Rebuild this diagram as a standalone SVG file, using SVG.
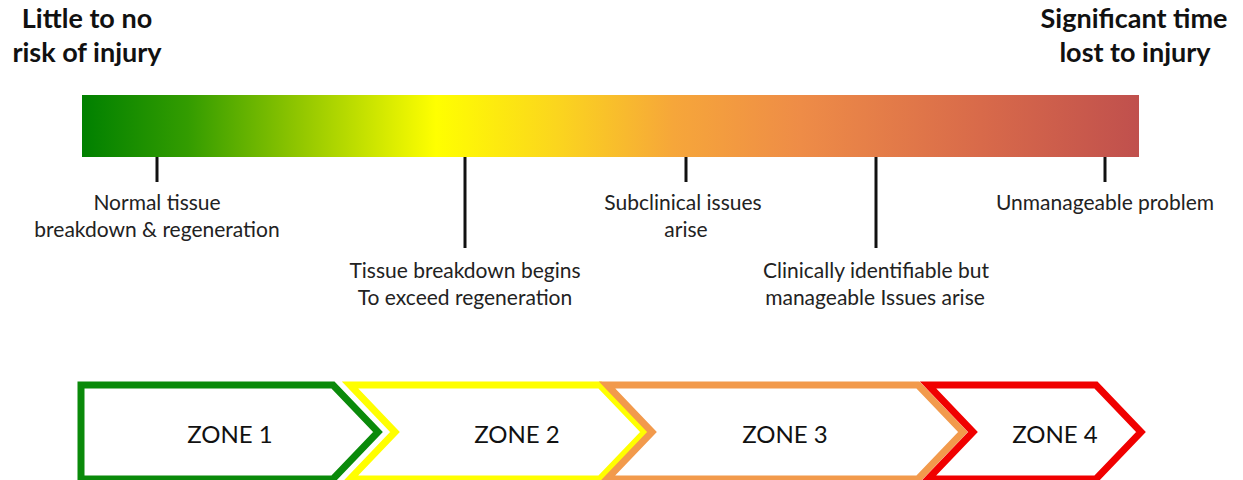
<svg xmlns="http://www.w3.org/2000/svg" width="1243" height="480" viewBox="0 0 1243 480">
<defs>
<linearGradient id="risk" x1="0" y1="0" x2="1" y2="0">
<stop offset="0" stop-color="#008000"/>
<stop offset="0.1" stop-color="#339c00"/>
<stop offset="0.2" stop-color="#8cc400"/>
<stop offset="0.335" stop-color="#ffff00"/>
<stop offset="0.45" stop-color="#fbd51e"/>
<stop offset="0.56" stop-color="#f6a63a"/>
<stop offset="0.68" stop-color="#ee8c47"/>
<stop offset="0.85" stop-color="#d86a4a"/>
<stop offset="1" stop-color="#c0504d"/>
</linearGradient>
<style>
.hdr{font-family:Lato,"Liberation Sans",sans-serif;font-weight:bold;font-size:27px;fill:#111;text-anchor:middle}
.lbl{font-family:Lato,"Liberation Sans",sans-serif;font-size:21px;fill:#222;text-anchor:middle}
.zone{font-family:Lato,"Liberation Sans",sans-serif;font-size:24px;fill:#111;text-anchor:middle}
.tick{stroke:#111;stroke-width:3}
.chev{fill:#fff;stroke-width:7;stroke-linejoin:miter}
</style>
</defs>
<rect width="1243" height="480" fill="#fff"/>
<g id="header-left">
<text class="hdr" x="87" y="28">Little to no</text>
<text class="hdr" x="87" y="62">risk of injury</text>
</g>
<g id="header-right">
<text class="hdr" x="1134" y="28">Significant time</text>
<text class="hdr" x="1135" y="62">lost to injury</text>
</g>
<g id="risk-bar">
<rect x="82" y="95" width="1057" height="62" fill="url(#risk)"/>
</g>
<g id="connectors">
<line class="tick" x1="157" y1="157" x2="157" y2="182"/>
<line class="tick" x1="465" y1="157" x2="465" y2="248"/>
<line class="tick" x1="686" y1="157" x2="686" y2="182"/>
<line class="tick" x1="876" y1="157" x2="876" y2="248"/>
<line class="tick" x1="1105" y1="157" x2="1105" y2="182"/>
</g>
<g id="label-normal">
<text class="lbl" x="157" y="210">Normal tissue</text>
<text class="lbl" x="157" y="237">breakdown &amp; regeneration</text>
</g>
<g id="label-breakdown">
<text class="lbl" x="465" y="278">Tissue breakdown begins</text>
<text class="lbl" x="465" y="305">To exceed regeneration</text>
</g>
<g id="label-subclinical">
<text class="lbl" x="683" y="210">Subclinical issues</text>
<text class="lbl" x="686" y="237">arise</text>
</g>
<g id="label-clinical">
<text class="lbl" x="876" y="278">Clinically identifiable but</text>
<text class="lbl" x="875" y="305">manageable Issues arise</text>
</g>
<g id="label-unmanageable">
<text class="lbl" x="1105" y="210">Unmanageable problem</text>
</g>
<g id="zone1">
<path class="chev" stroke="#0a8a0a" d="M81,385 L333,385 L378,432 L333,479 L81,479 Z"/>
<text class="zone" x="230" y="443">ZONE 1</text>
</g>
<g id="zone2">
<path class="chev" stroke="#ffff00" d="M350,385 L600,385 L645,432 L600,479 L350,479 L395,432 Z"/>
<text class="zone" x="517" y="443">ZONE 2</text>
</g>
<g id="zone3">
<path class="chev" stroke="#f29a4c" d="M607,385 L918,385 L963,432 L918,479 L607,479 L652,432 Z"/>
<text class="zone" x="785" y="443">ZONE 3</text>
</g>
<g id="zone4">
<path class="chev" stroke="#f00000" d="M928,385 L1096,385 L1141,432 L1096,479 L928,479 L973,432 Z"/>
<text class="zone" x="1055" y="443">ZONE 4</text>
</g>
</svg>
